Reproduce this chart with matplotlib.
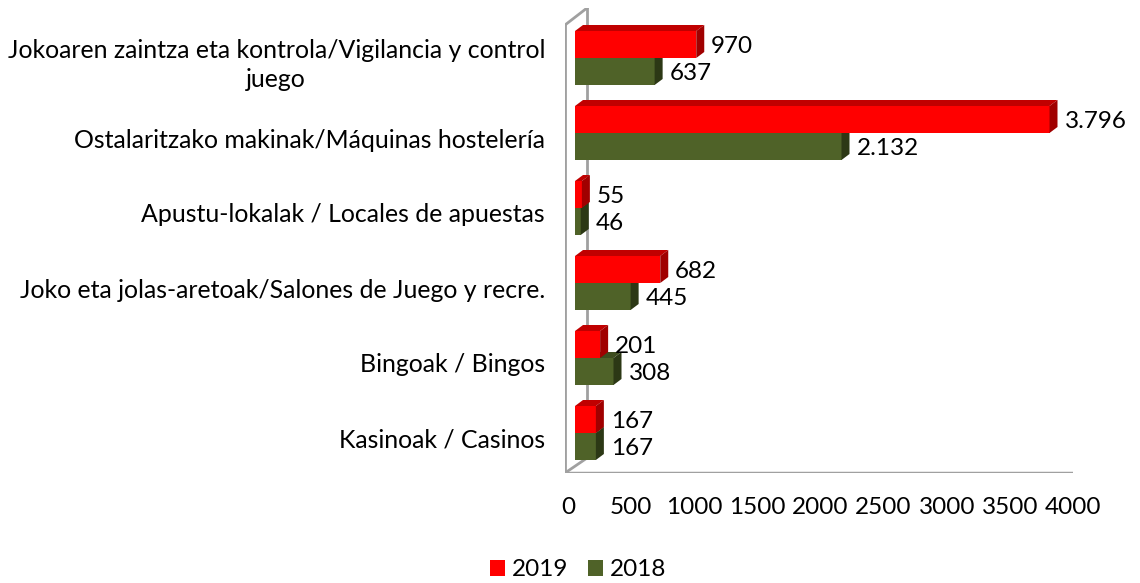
import numpy as np
import matplotlib
matplotlib.use("Agg")
import matplotlib.pyplot as plt
from matplotlib.patches import Polygon, Patch

plt.rcParams['font.family'] = ['Lato', 'DejaVu Sans']

cats = ["Jokoaren zaintza eta kontrola/Vigilancia y control\njuego",
        "Ostalaritzako makinak/Máquinas hostelería",
        "Apustu-lokalak / Locales de apuestas",
        "Joko eta jolas-aretoak/Salones de Juego y recre.",
        "Bingoak / Bingos",
        "Kasinoak / Casinos"]
v2019 = [970, 3796, 55, 682, 201, 167]
v2018 = [637, 2132, 46, 445, 308, 167]
xticks = [0, 500, 1000, 1500, 2000, 2500, 3000, 3500, 4000]

red = ("#FF0000", "#C00000", "#A00000")     # front, top, side
green = ("#4F6228", "#3D4C1E", "#2C3815")
wall = "#A0A0A0"

W, H = 1140, 583
fig = plt.figure(figsize=(W / 100, H / 100), dpi=100)
ax_l, ax_b, ax_w, ax_h = 565, 110, 508, 465
ax = fig.add_axes([ax_l / W, ax_b / H, ax_w / W, ax_h / H])

xmax = 4000
ylo = -0.44
sx = 500 / xmax           # px per unit for the bars
sy = 75.0                 # px per category
ax.set_xlim(0, ax_w / sx)
ax.set_ylim(ylo, ylo + ax_h / sy)
ax.axis("off")

# pixel offsets converted to data units
def dx(px):
    return px / sx

def dy(px):
    return px / sy

# walls
top = ylo + ax_h / sy
xend = ax_w / sx
ax.plot([dx(22), dx(22)], [ylo + dy(15), top], color=wall, lw=2, zorder=1)
ax.plot([0, 0], [ylo, top - dy(17)], color=wall, lw=2, zorder=1)
ax.plot([0, dx(22)], [top - dy(17), top], color=wall, lw=2, zorder=1)
ax.plot([0, dx(22)], [ylo, ylo + dy(15)], color=wall, lw=2, zorder=1)
ax.plot([0, xend], [ylo, ylo], color=wall, lw=2.5, zorder=1)

n = len(cats)
pos = np.arange(n)[::-1]
bh = 0.36
ox, oy = dx(10), dy(7)
bx, by = dx(8), dy(6)


def bar3d(x, y0, y1, cols):
    x0 = ox
    xe = ox + x
    a0, a1 = y0 + oy, y1 + oy
    ax.add_patch(Polygon([(x0, a0), (xe, a0), (xe, a1), (x0, a1)],
                         closed=True, facecolor=cols[0], edgecolor="none", zorder=3))
    ax.add_patch(Polygon([(x0, a1), (xe, a1), (xe + bx, a1 + by), (x0 + bx, a1 + by)],
                         closed=True, facecolor=cols[1], edgecolor="none", zorder=3))
    ax.add_patch(Polygon([(xe, a0), (xe + bx, a0 + by), (xe + bx, a1 + by), (xe, a1)],
                         closed=True, facecolor=cols[2], edgecolor="none", zorder=3))


def fmt(v):
    return f"{v:,}".replace(",", ".")


fs = 17.5
fcat = 17.9
for i in range(n):
    p = pos[i]
    bar3d(v2018[i], p - bh, p, green)
    bar3d(v2019[i], p, p + bh, red)
    ax.text(ox + bx + v2019[i] + dx(7), p + bh / 2 + oy - dy(2), fmt(v2019[i]),
            ha="left", va="center", fontsize=fs, zorder=5)
    ax.text(ox + bx + v2018[i] + dx(7), p - bh / 2 + oy - dy(2), fmt(v2018[i]),
            ha="left", va="center", fontsize=fs, zorder=5)
    ax.text(-dx(20), p, cats[i], ha="right", va="center", fontsize=fcat,
            multialignment="center", linespacing=1.35)

tick_sp = (xend - dx(3)) / xmax
for t in xticks:
    ax.text(t * tick_sp + dx(3), ylo - dy(34), str(t), ha="center", va="center", fontsize=fs)

handles = [Patch(facecolor=red[0], label="2019"), Patch(facecolor=green[0], label="2018")]
fig.legend(handles=handles, loc="center", bbox_to_anchor=(578 / W, 1 - 570 / H),
           ncol=2, frameon=False, fontsize=fs, handlelength=0.62, handleheight=0.62,
           handletextpad=0.28, columnspacing=0.8, borderpad=0)

fig.savefig("out.png", dpi=100)
